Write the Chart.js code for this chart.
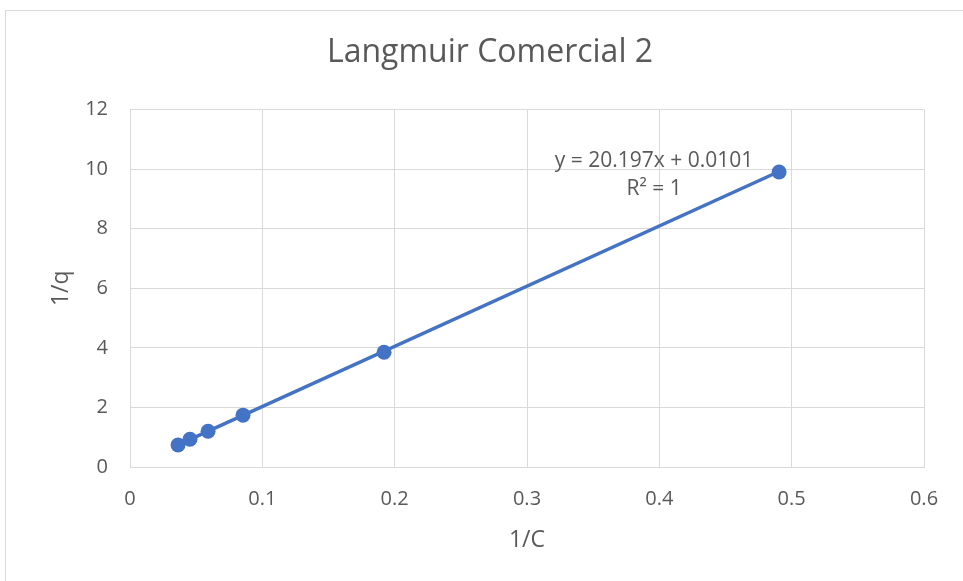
<!DOCTYPE html>
<html>
<head>
<meta charset="utf-8">
<script src="https://cdn.jsdelivr.net/npm/chart.js@4.4.1/dist/chart.umd.min.js"></script>
<style>
html,body{margin:0;padding:0;background:#fff;}
#wrap{width:963px;height:581px;position:relative;}
</style>
</head>
<body>
<div id="wrap"><canvas id="c" width="963" height="581"></canvas></div>
<script>
// Data
const invC = [0.0363, 0.0453, 0.0590, 0.0854, 0.1920, 0.4905];
const invQ = [0.74, 0.93, 1.20, 1.74, 3.85, 9.90];
// Linear trendline endpoints (Excel trendline y = 20.197x + 0.0101)
const trendX = [0.0363, 0.4905];
const trendY = [0.743, 9.917];
const xTicks = [0, 0.1, 0.2, 0.3, 0.4, 0.5, 0.6];
const yTicks = [0, 2, 4, 6, 8, 10, 12];
const titleText = 'Langmuir Comercial 2';
const xTitle = '1/C';
const yTitle = '1/q';
const eqLines = ['y = 20.197x + 0.0101', 'R² = 1'];

const FONT = "'Open Sans', 'Noto Sans', sans-serif";
const TXT = '#595959';
const GRID = '#d9d9d9';
const BLUE = '#4472C4';

const framePlugin = {
  id: 'frame',
  beforeDraw(chart) {
    const ctx = chart.ctx;
    ctx.save();
    ctx.fillStyle = '#fff';
    ctx.fillRect(0, 0, chart.width, chart.height);
    ctx.strokeStyle = GRID;
    ctx.lineWidth = 1;
    ctx.beginPath();
    ctx.moveTo(5.5, chart.height + 5);
    ctx.lineTo(5.5, 10.5);
    ctx.lineTo(chart.width + 5, 10.5);
    ctx.stroke();
    ctx.restore();
  }
};

const eqPlugin = {
  id: 'eq',
  afterDatasetsDraw(chart) {
    const ctx = chart.ctx;
    const xs = chart.scales.x, ys = chart.scales.y;
    const cx = xs.getPixelForValue(0.396);
    const cy = ys.getPixelForValue(10.27);
    ctx.save();
    ctx.fillStyle = TXT;
    ctx.font = '21px ' + FONT;
    ctx.textAlign = 'center';
    ctx.textBaseline = 'middle';
    ctx.fillText(eqLines[0], cx, cy);
    ctx.fillText(eqLines[1], cx, cy + 28);
    ctx.restore();
  }
};

new Chart(document.getElementById('c'), {
  type: 'scatter',
  data: {
    datasets: [
      {
        type: 'line',
        label: 'trend',
        data: trendX.map((x, i) => ({x: x, y: trendY[i]})),
        borderColor: BLUE,
        borderWidth: 3.5,
        pointRadius: 0,
        fill: false,
        order: 2
      },
      {
        label: 'data',
        data: invC.map((x, i) => ({x: x, y: invQ[i]})),
        backgroundColor: BLUE,
        borderColor: BLUE,
        pointRadius: 7.5,
        pointHoverRadius: 7.5,
        borderWidth: 0,
        order: 1
      }
    ]
  },
  options: {
    responsive: false,
    animation: false,
    events: [],
    layout: {padding: {left: 56, right: 39, top: 0, bottom: 0}},
    plugins: {
      legend: {display: false},
      tooltip: {enabled: false},
      title: {
        display: true,
        text: titleText,
        color: TXT,
        font: {family: FONT, size: 32, weight: 'normal'},
        padding: {top: 34, bottom: 37}
      }
    },
    scales: {
      x: {
        type: 'linear',
        min: 0, max: 0.6,
        afterBuildTicks(s) { s.ticks = xTicks.map(v => ({value: v})); },
        afterFit(s) { s.height = 114; },
        grid: {color: GRID, drawTicks: false, lineWidth: 1},
        border: {color: GRID, width: 1},
        ticks: {color: TXT, font: {family: FONT, size: 20}, padding: 20,
          callback: v => String(v)},
        title: {display: true, text: xTitle, color: TXT,
          font: {family: FONT, size: 23}, padding: {top: 0, bottom: 27}}
      },
      y: {
        type: 'linear',
        min: 0, max: 12,
        afterBuildTicks(s) { s.ticks = yTicks.map(v => ({value: v})); },
        afterFit(s) { s.width = 74; },
        grid: {color: GRID, drawTicks: false, lineWidth: 1},
        border: {color: GRID, width: 1},
        ticks: {color: TXT, font: {family: FONT, size: 20}, padding: 22,
          callback: v => String(v)},
        title: {display: true, text: yTitle, color: TXT,
          font: {family: FONT, size: 23}, padding: {top: -8, bottom: 0}}
      }
    }
  },
  plugins: [framePlugin, eqPlugin]
});
</script>
</body>
</html>
